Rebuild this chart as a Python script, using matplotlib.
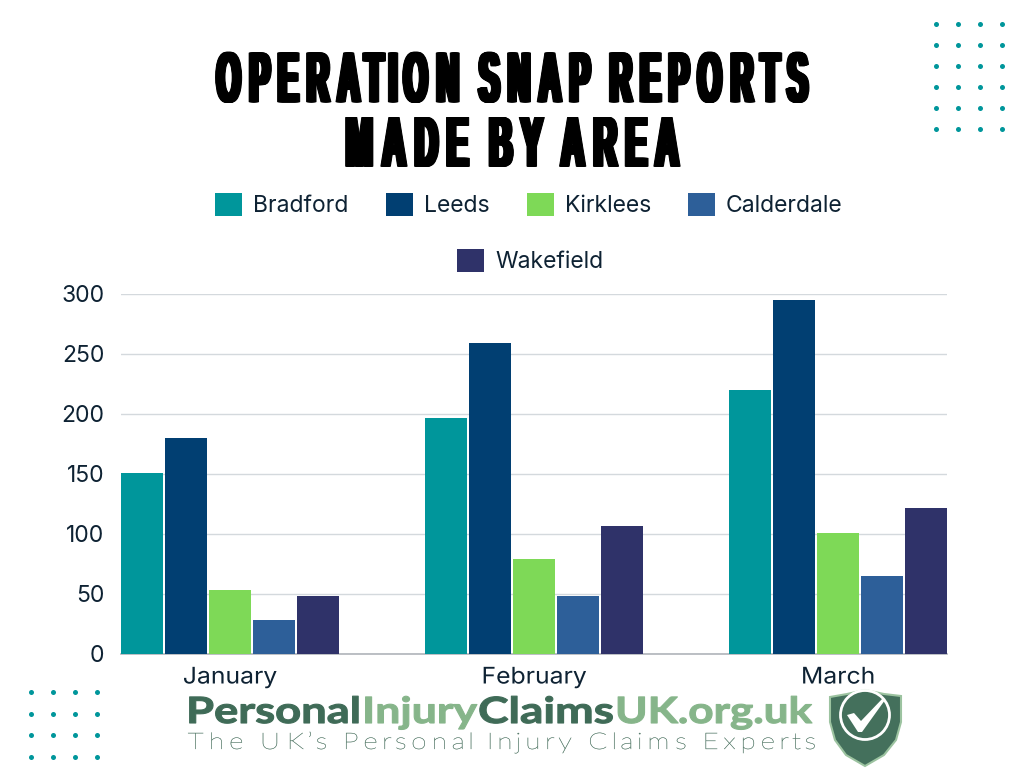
import numpy as np
import matplotlib
matplotlib.use('Agg')
import matplotlib.pyplot as plt
from matplotlib.patches import Polygon, Circle
from matplotlib.path import Path
from matplotlib.transforms import Affine2D
import matplotlib.patheffects as pe

months = ['January', 'February', 'March']
areas = ['Bradford', 'Leeds', 'Kirklees', 'Calderdale', 'Wakefield']
bradford = [151, 197, 220]
leeds = [180, 259, 295]
kirklees = [53, 79, 101]
calderdale = [28, 48, 65]
wakefield = [48, 107, 122]
y_ticks = [0, 50, 100, 150, 200, 250, 300]
colours = ['#00969B', '#013F72', '#7ED957', '#2D5F99', '#2F3269']
title = 'OPERATION SNAP REPORTS\nMADE BY AREA'
ink = '#0E2233'


class Squeeze(pe.AbstractPathEffect):
    # widen or narrow drawn glyphs around x=cx, the fonts here have no condensed cut
    def __init__(self, sx, cx, stroke=0):
        super().__init__()
        self.sx, self.cx, self.stroke = sx, cx, stroke

    def draw_path(self, renderer, gc, tpath, affine, rgbFace=None):
        a = affine + Affine2D().translate(-self.cx, 0).scale(self.sx, 1).translate(self.cx, 0)
        g = renderer.new_gc()
        g.copy_properties(gc)
        g.set_linewidth(self.stroke)
        if self.stroke:
            g.set_foreground(rgbFace)
        renderer.draw_path(g, tpath, a, rgbFace)
        g.restore()


class Poster(Squeeze):
    # same squeeze, but each glyph also narrowed in its own cell and smeared sideways,
    # gives the spaced look of the title and the tagline
    def __init__(self, sx, cx, stroke=0, k=0.71, smear=5, steps=9):
        super().__init__(sx, cx, stroke)
        self.k, self.smear, self.steps = k, smear, steps

    def draw_path(self, renderer, gc, tpath, affine, rgbFace=None):
        v = tpath.vertices.copy()
        codes = tpath.codes
        starts = list(np.where(codes == Path.MOVETO)[0]) + [len(v)]
        groups = []
        for a, b in zip(starts[:-1], starts[1:]):
            xs = v[a:b][codes[a:b] != Path.CLOSEPOLY, 0]
            mid = (xs.min() + xs.max())/2
            if groups and groups[-1][2] <= mid <= groups[-1][3]:
                groups[-1][1] = b
            else:
                groups.append([a, b, xs.min(), xs.max()])
        for a, b, x0, x1 in groups:
            c = (x0 + x1)/2
            v[a:b, 0] = c + (v[a:b, 0] - c)*self.k
        p = Path(v, codes)
        for dx in np.linspace(-self.smear/2, self.smear/2, self.steps):
            super().draw_path(renderer, gc, p, affine + Affine2D().translate(dx/self.sx, 0), rgbFace)


class TitlePoster(Poster):
    # second title line runs a little wider than the first
    def draw_path(self, renderer, gc, tpath, affine, rgbFace=None):
        base = self.sx
        if affine.get_matrix()[1, 2] < 658:
            self.sx = base*1.044
        super().draw_path(renderer, gc, tpath, affine, rgbFace)
        self.sx = base


plt.rcParams['font.family'] = ['Inter', 'DejaVu Sans']
fig = plt.figure(figsize=(10.24, 7.68), dpi=100, facecolor='white')

# chart area, 121-947 px across and 294-654 px down
ax = fig.add_axes([121/1024, (768-654)/768, 826/1024, 360/768])
x = np.arange(len(months))
step = 44/304
bars = []
for i, vals in enumerate([bradford, leeds, kirklees, calderdale, wakefield]):
    b = ax.bar(x + (i-2)*step, vals, width=42/304, color=colours[i], zorder=3, label=areas[i])
    bars.append(b)
ax.set_xlim(-109/304, 717/304)
ax.set_ylim(0, 300)
ax.set_xticks(x, months)
ax.set_yticks(y_ticks)
ax.grid(axis='y', color='#D4D9DD', lw=1, zorder=0)
ax.set_axisbelow(True)
for s in ['top', 'right', 'left']:
    ax.spines[s].set_visible(False)
ax.spines['bottom'].set_color('#B0B4BA')
ax.spines['bottom'].set_linewidth(1.2)
ax.tick_params(length=0, labelsize=16.5, labelcolor=ink)
ax.tick_params(axis='y', pad=12)
ax.tick_params(axis='x', pad=9)

# overlay in pixel coordinates for title, legend placing and logo
ov = fig.add_axes([0, 0, 1, 1], zorder=5)
ov.set_xlim(0, 1024)
ov.set_ylim(768, 0)
ov.axis('off')
ov.patch.set_alpha(0)
r = fig.canvas.get_renderer()

for lab, cx in zip(ax.get_xticklabels(), [230, 534, 838]):
    lab.set_path_effects([Squeeze(1.08, cx)])


def fitted(s, x0, x1, y, stroke=0, **kw):
    # left aligned text stretched to span x0-x1 px
    t = ov.text(x0, y, s, ha='left', va='baseline', **kw)
    t.set_path_effects([Squeeze((x1-x0)/t.get_window_extent(r).width, x0, stroke)])
    return t


tt = ov.text(512, 116, title, ha='center', va='center', fontsize=51, color='black',
             family=['Liberation Sans', 'DejaVu Sans'], fontweight='bold', linespacing=0.97)
tt.set_path_effects([TitlePoster(600/tt.get_window_extent(r).width, 512, 0.7)])

leg_kw = dict(frameon=False, fontsize=16.5, labelcolor=ink, handlelength=1.18, handleheight=1.18,
              handletextpad=0.48, columnspacing=1.62, borderpad=0, borderaxespad=0, loc='center')
leg1 = ov.legend(bars[:4], areas[:4], ncol=4, bbox_to_anchor=(529, 205), bbox_transform=ov.transData, **leg_kw)
ov.add_artist(leg1)
ov.legend(bars[4:], areas[4:], bbox_to_anchor=(530, 261), bbox_transform=ov.transData, **leg_kw)

# dot patterns
tx, ty = np.meshgrid([936, 958, 980, 1002], [24, 45, 66, 87, 108, 129])
ov.scatter(tx.ravel(), ty.ravel(), s=13, color='#00969B', lw=0)
bx, by = np.meshgrid([31, 53, 75, 97], [692, 714, 735, 757])
ov.scatter(bx.ravel(), by.ravel(), s=13, color='#00969B', lw=0)

# logo wordmark, pieces put side by side
dark = '#3F6B57'
light = '#86B58A'
word_kw = dict(fontsize=26, fontweight='bold', family=['Lato', 'DejaVu Sans'])
fitted('Personal', 186, 361, 723, stroke=0.8, color=dark, **word_kw)
fitted('Injury', 362, 477, 723, stroke=0.8, color=light, **word_kw)
fitted('Claims', 478, 614, 723, stroke=0.8, color=dark, **word_kw)
fitted('UK.org.uk', 615, 812, 723, stroke=0.8, color=light, **word_kw)
tag = ov.text(185, 749, "The UK\u2019s Personal Injury Claims Experts", ha='left', va='baseline', color='#4F7564',
              fontsize=16.5, fontweight='light', family=['Lato', 'DejaVu Sans'])
tag.set_path_effects([Poster(632/tag.get_window_extent(r).width, 185, 0.2, k=0.75, smear=0, steps=1)])

# shield
shield = [(830, 697), (847, 694), (865, 690), (884, 694), (901, 696), (901, 722), (896, 740), (884, 755),
          (865, 766), (846, 755), (835, 740), (830, 722)]
ov.add_patch(Polygon(shield, closed=True, fc='#44705C', ec='#9CC3A0', lw=1.5))
ov.add_patch(Circle((865, 715), 24.5, fc='none', ec='white', lw=2))
ov.add_patch(Polygon([(847, 715), (854, 713), (861, 721), (883, 698), (885, 700), (862, 732), (858, 732)],
                     closed=True, fc='white', ec='none'))

fig.savefig('out.png', dpi=100)
